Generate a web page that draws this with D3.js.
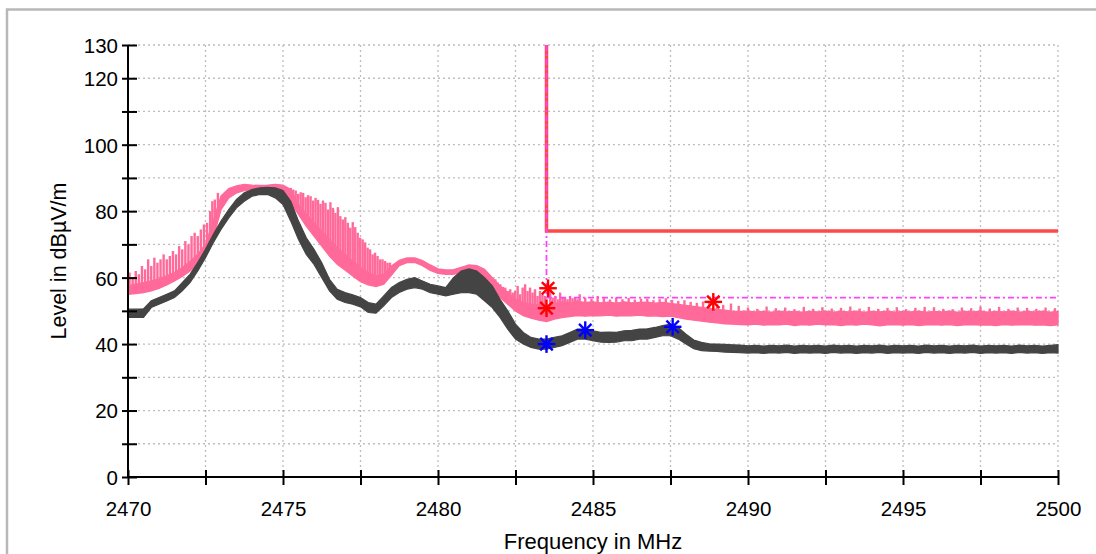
<!DOCTYPE html>
<html><head><meta charset="utf-8">
<script src="https://cdn.jsdelivr.net/npm/d3@7/dist/d3.min.js"></script>
<style>
html,body{margin:0;padding:0;background:#fff;}
svg{display:block;font-family:"Liberation Sans",Arial,Helvetica,sans-serif;}
</style></head>
<body>
<svg id="chart" width="1096" height="554"></svg>
<script>
// ---------- data ----------
const freq = [2470,2470.25,2470.5,2470.75,2471,2471.25,2471.5,2471.75,2472,2472.25,2472.5,2472.75,2473,2473.25,2473.5,2473.75,2474,2474.25,2474.5,2474.75,2475,2475.25,2475.5,2475.75,2476,2476.25,2476.5,2476.75,2477,2477.25,2477.5,2477.75,2478,2478.25,2478.5,2478.75,2479,2479.25,2479.5,2479.75,2480,2480.25,2480.5,2480.75,2481,2481.25,2481.5,2481.75,2482,2482.25,2482.5,2482.75,2483,2483.25,2483.5,2483.75,2484,2484.25,2484.5,2484.75,2485,2485.25,2485.5,2485.75,2486,2486.25,2486.5,2486.75,2487,2487.25,2487.5,2487.75,2488,2488.25,2488.5,2488.75,2489,2489.25,2489.5,2489.75,2490,2490.25,2490.5,2490.75,2491,2491.25,2491.5,2491.75,2492,2492.25,2492.5,2492.75,2493,2493.25,2493.5,2493.75,2494,2494.25,2494.5,2494.75,2495,2495.25,2495.5,2495.75,2496,2496.25,2496.5,2496.75,2497,2497.25,2497.5,2497.75,2498,2498.25,2498.5,2498.75,2499,2499.25,2499.5,2499.75,2500];

// Peak trace (pink): lower and upper edge of the band
const peakLo = [55.0,55.2,55.5,56.0,56.8,57.8,59.0,60.4,62.0,64.0,67.0,72.0,80.5,84.0,85.5,86.2,86.5,86.5,86.8,86.8,86.0,82.5,79.0,75.5,72.5,69.5,66.5,64.0,62.3,60.5,58.8,57.8,57.3,58.0,60.8,63.6,64.5,64.6,63.6,62.2,61.3,61.0,61.0,61.6,62.3,62.0,59.5,56.5,54.0,52.0,50.0,48.6,47.8,47.2,46.8,47.5,48.0,48.3,48.6,48.4,48.6,48.5,48.7,48.4,48.6,48.5,48.7,48.4,48.5,48.3,48.4,48.0,47.5,47.2,46.9,46.6,46.4,46.1,46.0,45.9,45.8,46.0,45.7,45.9,45.8,46.0,45.6,45.9,45.7,46.0,45.8,45.9,45.6,45.9,45.7,46.0,45.8,45.5,45.8,45.9,45.7,45.9,45.6,45.8,45.9,45.7,45.9,45.6,45.8,45.9,45.7,45.8,45.6,45.9,45.7,45.8,45.9,45.7,45.8,45.6,45.8];
const peakHi = [57.5,58.0,58.5,59.0,59.6,60.5,61.6,63.0,64.8,67.0,70.0,77.0,84.5,86.8,87.6,88.0,87.8,87.7,87.8,88.0,87.8,86.5,82.0,79.0,76.5,74.0,71.5,69.0,67.0,65.0,63.0,61.5,60.5,61.0,63.5,65.2,65.9,65.9,65.1,63.8,62.6,62.3,62.4,63.1,63.8,63.6,62.5,60.0,57.5,55.5,53.5,52.5,52.0,51.8,51.6,52.2,52.6,52.4,52.8,52.5,52.7,52.4,52.6,52.3,52.7,52.4,52.5,52.6,52.3,52.5,52.2,51.9,51.6,51.3,51.0,50.7,50.4,50.2,49.9,49.8,49.9,49.7,49.8,49.6,49.9,49.7,49.8,49.6,49.8,49.7,49.9,49.6,49.8,49.7,49.9,49.6,49.8,49.7,49.9,49.6,49.8,49.7,49.9,49.6,49.8,49.7,49.9,49.6,49.8,49.7,49.9,49.6,49.8,49.7,49.9,49.6,49.8,49.7,49.9,49.6,49.8];

// Peak trace spikes: frequency and spike top
const peakSpikeF = [2470.05,2470.15,2470.25,2470.35,2470.45,2470.55,2470.65,2470.75,2470.85,2470.95,2471.05,2471.15,2471.25,2471.35,2471.45,2471.55,2471.65,2471.75,2471.85,2471.95,2472.05,2472.15,2472.25,2472.35,2472.45,2472.55,2472.65,2472.72,2472.8,2472.9,
 2475.25,2475.33,2475.41,2475.49,2475.57,2475.65,2475.73,2475.81,2475.89,2475.97,2476.05,2476.13,2476.21,2476.29,2476.37,2476.45,2476.53,2476.61,2476.69,2476.77,2476.85,2476.93,2477.01,2477.09,2477.17,2477.25,2477.33,2477.41,2477.49,2477.57,2477.65,2477.73,2477.81,2477.89,2477.97,2478.05,2478.13,2478.21,2478.29,2478.37,2478.45,
 2481.85,2481.93,2482.01,2482.09,2482.17,2482.25,2482.33,2482.41,2482.49,2482.57,2482.65,2482.73,2482.81,2482.89,2482.97,2483.05,2483.13,2483.21,2483.29,2483.37,2483.45,2483.62,2483.7,2483.78,2483.86,2483.94,2484.02,2484.1,2484.18,2484.26,2484.34,2484.42,2484.5,2484.57,
 2484.75,2484.95,2485.15,2485.35,2485.55,2485.75,2485.95,2486.15,2486.35,2486.55,2486.75,2486.95,2487.15,2487.35,2487.55,2487.75,2487.95,2488.15,2488.35,2488.55,2488.75,2489.0,2489.2,2489.45,2489.7,
 2490.0,2490.3,2490.6,2490.9,2491.2,2491.5,2491.8,2492.1,2492.4,2492.7,2493.0,2493.3,2493.6,2493.9,2494.2,2494.5,2494.8,2495.1,2495.4,2495.7,2496.0,2496.3,2496.6,2496.9,2497.2,2497.5,2497.8,2498.1,2498.4,2498.7,2499.0,2499.3,2499.6,2499.9];
const peakSpikeV = [61.5,60,62,61,63.5,62.5,65.5,63.5,66,64.5,65.5,67,65.5,66.5,68,67,69.5,68.5,71,70,72.5,73.5,72.5,74.5,76,76.5,80,83,83.5,85.5,
 87,86.5,86.2,85.2,85.7,85.5,84.2,84.8,84.5,83.2,84,83.4,82.2,83.2,82.5,80.5,82.7,81,79.5,81.2,78.5,77.5,78.2,76.5,75,76.7,75.2,73.5,72,71.5,70.6,69,68.5,67,67.5,66.5,65.5,65.5,65,64.5,64.5,
 59.5,58.5,58,57.2,57,56,56.5,55.5,56,57.5,55,57,58,56,57,55.5,56.5,54.5,56,55,54.5,57.5,54,54.5,53.5,55.5,54,54,53.5,54.5,53.8,54,53.5,55,
 54,53.6,54.5,53.8,53.4,54,53.5,53.9,53.4,53.7,53.6,53.2,53.5,53.8,53.3,53,53.2,52.7,52.4,52.8,52.6,52,51.8,52.2,51.5,
 51,50.6,51.3,50.8,51,50.5,51.2,50.6,51.1,50.7,50.9,51.3,50.7,51.2,50.6,50.9,51.1,50.5,50.9,51.2,51.1,50.6,50.5,51,50.8,51.3,50.7,51.2,50.6,51,50.9,50.6,51,50.8];

// Average trace (dark grey): lower and upper edge of the band
const avgLo = [48.0,48.0,48.0,51.0,52.0,53.0,54.0,56.0,58.5,62.0,66.0,70.5,74.5,78.0,81.0,83.0,84.5,85.0,85.0,84.0,82.0,77.0,71.5,67.0,64.0,60.0,56.0,53.5,52.5,52.0,51.2,49.5,49.3,51.5,54.0,55.5,56.5,57.0,56.5,55.5,55.0,54.5,55.0,55.5,55.5,55.0,53.0,51.0,48.0,44.5,41.5,40.0,39.0,38.5,38.5,39.0,39.5,40.5,41.5,41.5,41.0,40.6,40.5,40.6,41.0,41.0,41.5,41.5,42.0,42.5,42.5,41.5,40.0,38.6,38.0,37.9,37.8,37.6,37.5,37.4,37.3,37.4,37.2,37.4,37.3,37.5,37.2,37.4,37.3,37.4,37.2,37.5,37.3,37.4,37.2,37.4,37.3,37.5,37.2,37.4,37.3,37.4,37.2,37.5,37.3,37.4,37.2,37.4,37.3,37.5,37.2,37.4,37.3,37.4,37.2,37.5,37.3,37.4,37.2,37.4,37.3];
const avgHi = [50.5,50.5,50.6,53.0,54.0,55.0,56.0,58.5,61.0,64.5,68.5,73.0,77.0,80.5,83.5,85.5,86.5,87.0,87.2,87.0,86.2,83.0,77.0,72.0,68.5,64.5,59.5,56.5,55.5,54.8,54.0,52.5,52.0,54.5,57.0,58.5,59.5,60.0,59.0,58.0,57.5,57.0,60.0,62.0,62.6,62.0,60.0,57.5,53.5,50.0,46.0,43.5,42.0,41.5,41.5,42.0,42.5,43.5,44.5,44.5,44.0,43.5,43.6,43.5,44.0,44.1,44.5,44.6,45.0,45.6,46.0,45.0,43.0,41.2,40.5,40.1,40.0,39.9,39.8,39.7,39.5,39.6,39.4,39.6,39.5,39.7,39.4,39.6,39.5,39.6,39.4,39.7,39.5,39.6,39.4,39.6,39.5,39.7,39.4,39.6,39.5,39.6,39.4,39.7,39.5,39.6,39.4,39.6,39.5,39.7,39.4,39.6,39.5,39.6,39.4,39.7,39.5,39.6,39.4,39.6,39.8];

// Limit lines
const limitF = [2483.5, 2483.5, 2500];
const limitPeakV = [130, 74, 74];
const limitAvgV = [130, 54, 54];

// Markers
const peakMarkF = [2483.55, 2483.5, 2488.88];
const peakMarkV = [56.8, 50.8, 52.7];
const avgMarkF = [2483.5, 2484.75, 2487.57];
const avgMarkV = [40.0, 44.2, 45.2];

// Axis ticks
const xTicks = [2470,2472.5,2475,2477.5,2480,2482.5,2485,2487.5,2490,2492.5,2495,2497.5,2500];
const xLabels = [2470,2475,2480,2485,2490,2495,2500];
const yTicks = [0,10,20,30,40,50,60,70,80,90,100,110,120,130];
const yLabels = [0,20,40,60,80,100,120,130];

// ---------- drawing ----------
const svg = d3.select("#chart");
const x = d3.scaleLinear().domain([2470, 2500]).range([128, 1058]);
const y = d3.scaleLinear().domain([0, 130]).range([477, 45]);

// frame
svg.append("path").attr("d", "M7,600V9.5H1100").attr("fill", "none")
  .attr("stroke", "#b8b8b8").attr("stroke-width", 2.5);

// grid
const grid = svg.append("g");
grid.selectAll("line.v").data(xTicks.slice(1)).enter().append("line")
  .attr("x1", d => x(d)).attr("x2", d => x(d)).attr("y1", y(130)).attr("y2", y(0))
  .attr("stroke", "#bdbdbd").attr("stroke-width", 1.3).attr("stroke-dasharray", "2,3");
grid.selectAll("line.h").data(yTicks.slice(1)).enter().append("line")
  .attr("x1", x(2470)).attr("x2", x(2500)).attr("y1", d => y(d)).attr("y2", d => y(d))
  .attr("stroke", "#bdbdbd").attr("stroke-width", 1.3).attr("stroke-dasharray", "2,3");

// traces
const idx = d3.range(freq.length);
const pinkCol = "#ff6a9b", greyCol = "#444444";
function loAt(arr, f) {
  let j = d3.bisectLeft(freq, f);
  j = Math.min(Math.max(j, 1), freq.length - 1);
  const t = (f - freq[j-1]) / (freq[j] - freq[j-1]);
  return arr[j-1] + (arr[j] - arr[j-1]) * t;
}
const peakArea = d3.area().x(i => x(freq[i])).y0(i => y(peakLo[i])).y1(i => y(peakHi[i]));
svg.append("path").attr("d", peakArea(idx)).attr("fill", pinkCol)
  .attr("stroke", pinkCol).attr("stroke-width", 1.4);
svg.append("g")
  .selectAll("line").data(d3.range(peakSpikeF.length)).enter().append("line")
  .attr("x1", i => x(peakSpikeF[i])).attr("x2", i => x(peakSpikeF[i]))
  .attr("y1", i => y(peakSpikeV[i]))
  .attr("y2", i => y(loAt(peakLo, peakSpikeF[i]) + 0.5))
  .attr("stroke", pinkCol).attr("stroke-width", 2.4);

const avgArea = d3.area().x(i => x(freq[i])).y0(i => y(avgLo[i])).y1(i => y(avgHi[i]));
svg.append("path").attr("d", avgArea(idx)).attr("fill", greyCol)
  .attr("stroke", greyCol).attr("stroke-width", 1.2);

// limit lines
const lim = d3.line().x(i => x(limitF[i]));
svg.append("path").attr("d", lim.y(i => y(limitPeakV[i]))([0,1,2]))
  .attr("fill", "none").attr("stroke", "#ff4848").attr("stroke-width", 3.5);
svg.append("path").attr("d", lim.y(i => y(limitAvgV[i]))([0,1,2]))
  .attr("fill", "none").attr("stroke", "#ff40ff").attr("stroke-width", 1.8)
  .attr("stroke-dasharray", "6,3,2,3");

// markers (asterisks)
function star(g, cx, cy, col) {
  const r = 8.8;
  [0, 45, 90, 135].forEach(a => {
    const t = a * Math.PI / 180;
    g.append("line").attr("x1", cx - r*Math.cos(t)).attr("y1", cy - r*Math.sin(t))
      .attr("x2", cx + r*Math.cos(t)).attr("y2", cy + r*Math.sin(t))
      .attr("stroke", col).attr("stroke-width", 2.4);
  });
}
const mk = svg.append("g");
peakMarkF.forEach((f, i) => star(mk, x(f), y(peakMarkV[i]), "#ff0000"));
avgMarkF.forEach((f, i) => star(mk, x(f), y(avgMarkV[i]), "#0000ff"));

// axes
const fs = "20.5px";
const yAxis = svg.append("g").attr("transform", `translate(${x(2470)},0)`)
  .call(d3.axisLeft(y).tickValues(yTicks).tickSizeOuter(0)
    .tickFormat(d => yLabels.includes(d) ? String(d) : ""));
yAxis.select(".domain").attr("stroke", "#000").attr("stroke-width", 2).attr("d", `M0,${y(130)}V${y(0)}`);
yAxis.selectAll(".tick line").attr("x1", -6).attr("x2", 9).attr("stroke", "#000").attr("stroke-width", 2);
yAxis.selectAll(".tick text").attr("x", -10).attr("dy", "0.36em").attr("font-size", fs)
  .attr("fill", "#000").attr("font-family", null);

const xAxis = svg.append("g").attr("transform", `translate(0,${y(0)})`)
  .call(d3.axisBottom(x).tickValues(xTicks).tickSizeOuter(0)
    .tickFormat(d => xLabels.includes(d) ? String(d) : ""));
xAxis.select(".domain").attr("stroke", "#000").attr("stroke-width", 2).attr("d", `M${x(2470)},0H${x(2500)}`);
xAxis.selectAll(".tick line").attr("y1", -7).attr("y2", 8).attr("stroke", "#000").attr("stroke-width", 2);
xAxis.selectAll(".tick text").attr("y", 38.5).attr("dy", null).attr("font-size", fs)
  .attr("fill", "#000").attr("font-family", null);
svg.selectAll(".tick text").style("font-family", "'Liberation Sans',Arial,sans-serif");

// titles
svg.append("text").attr("x", 593).attr("y", 549).attr("text-anchor", "middle")
  .attr("font-size", "22px").text("Frequency in MHz");
svg.append("text").attr("transform", "translate(66,261) rotate(-90)").attr("text-anchor", "middle")
  .attr("font-size", "21.5px").text("Level in dBµV/m");
</script>
</body></html>
